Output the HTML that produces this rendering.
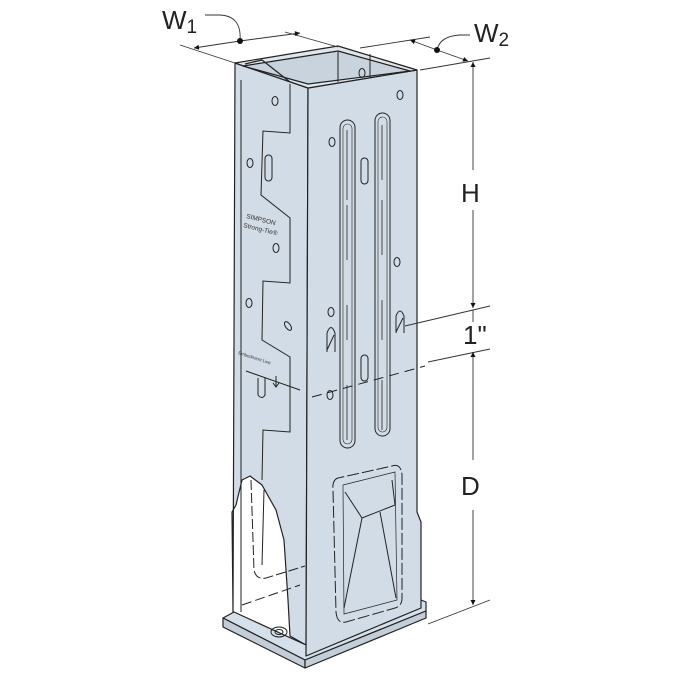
<!DOCTYPE html>
<html><head><style>html,body{margin:0;padding:0;background:#fff}svg{display:block}</style></head><body>
<svg width="675" height="675" viewBox="0 0 675 675" xmlns="http://www.w3.org/2000/svg" font-family="Liberation Sans, sans-serif">
<defs>
<marker id="a" viewBox="0 0 10 10" refX="10" refY="5" markerWidth="7" markerHeight="5" orient="auto-start-reverse" markerUnits="userSpaceOnUse"><path d="M0,0L10,5L0,10z" fill="#111"/></marker>
</defs>
<g stroke="#222" stroke-width="1.2" stroke-linejoin="round" fill="#d2dce6">
<!-- left face -->
<path d="M235,63 L308,88 L306,645 L290,636 L288,600 L284,540 L276,510 L262,485 L250,476 L242,480 L236,505 L232,512 L233,612 Z"/>
<!-- base plate -->
<path d="M223,618 L234,612 L306,645 L421,600 L426,602 L426,611 L305,660 Z" fill="#d6e0ea"/>
<path d="M223,618 L305,660 L305,668 L223,627 Z" fill="#c4ced8"/>
<path d="M305,660 L426,611 L426,618 L305,668 Z" fill="#c4ced8"/>
<!-- front face -->
<path d="M308,88 L417,70 L417,512 L421,522 L421,608 L306,656 Z"/>
<!-- top opening -->
<path d="M235,63 L338,46 L417,70 L308,88 Z" fill="#dfe6ed"/>
<path d="M243,66 L338,51 L410,71 L308,84 Z" fill="#c9d3dd"/>
<path d="M245,64 L262,60 L290,82" fill="none"/>
</g>
<g stroke="#222" stroke-width="1" fill="none">
<path d="M290,84 L290,133 L263,131 L261,195 L290,218 L290,283 L263,281 L262,340 L290,357 L290,432 L263,430 L262,480"/>
<path d="M241,80 L241,612"/>
<path d="M338,52 L338,82"/>
<path d="M370,54 L370,78"/>
<rect x="340" y="120" width="15" height="328" rx="7.5"/>
<rect x="343" y="124" width="9" height="320" rx="4.5" stroke-width="0.6"/>
<rect x="375" y="113" width="15" height="323" rx="7.5"/>
<rect x="378" y="117" width="9" height="315" rx="4.5" stroke-width="0.6"/>
<path d="M347,130 V200 M347,205 V260 M347,305 V340 M347,385 V440 M382,125 V180 M382,200 V255 M382,300 V340 M382,380 V430" stroke-width="0.8"/>
<rect x="361" y="158" width="7" height="26" rx="3.5"/>
<rect x="361" y="355" width="7" height="26" rx="3.5"/>
<rect x="265" y="155" width="7" height="26" rx="3.5"/>
<ellipse cx="332" cy="142" rx="3" ry="4.5"/>
<ellipse cx="397" cy="262" rx="3" ry="4.5"/>
<ellipse cx="331" cy="312" rx="3" ry="4.5"/>
<ellipse cx="400" cy="95" rx="3" ry="4.5"/>
<ellipse cx="275" cy="101" rx="3" ry="4.5"/>
<ellipse cx="250" cy="163" rx="3" ry="4.5"/>
<ellipse cx="276" cy="248" rx="3" ry="4.5"/>
<ellipse cx="249" cy="303" rx="3" ry="4.5"/>
<ellipse cx="288" cy="326" rx="2.5" ry="5" transform="rotate(-35 288 326)"/>
<ellipse cx="330" cy="395" rx="3" ry="4.5"/>
<ellipse cx="362" cy="73" rx="3" ry="4.5"/>
<path d="M327,352 V333 Q331,322 335,333 V352 M327,350 L334,335"/>
<path d="M396,333 V316 Q400,306 404,316 V333 M396,332 L403,318"/>
<path d="M258,378 V395 Q262,400 265,395 V378"/>
<path d="M246,371 L300,390"/>
<path d="M276,376 V386 M273,383 L276,387 L279,383"/>
<path d="M312,397 L425,366" stroke-dasharray="10,6"/>
<path d="M338,478 Q332,480 333,490 L336,612 Q337,624 346,622 L395,608 Q402,606 402,598 L402,475 Q401,463 392,466 Z" stroke-dasharray="12,3"/>
<path d="M343,485 L395,472 L397,600 L344,614 Z" stroke-width="0.7"/>
<path d="M345,492 L362,518 L395,505 M362,518 L344,608 M380,512 L396,598 M392,480 L395,505"/>
<path d="M251,480 L254,570 Q256,580 266,578 L305,566" stroke-dasharray="10,3"/>
<path d="M264,490 L262,565"/>
<path d="M242,605 L300,585" stroke-dasharray="10,4"/>
<ellipse cx="279" cy="632" rx="8" ry="5"/>
<ellipse cx="279" cy="632" rx="4" ry="2.5"/>
</g>
<text x="246" y="218" font-size="6.5" fill="#333" transform="rotate(14 246 218)">SIMPSON</text>
<text x="243" y="227" font-size="6.5" fill="#333" transform="rotate(14 243 227)">Strong-Tie®</text>
<text x="238" y="354" font-size="4.5" fill="#333" transform="rotate(18 238 354)">Embedment Line</text>
<g stroke="#333" stroke-width="0.9" fill="none">
<path d="M180,45 L235,63 M285,32 L338,47 M360,48 L430,37 M420,70 L490,58"/>
<path d="M240,41 L194,48" marker-end="url(#a)"/>
<path d="M240,41 L300,33" marker-end="url(#a)"/>
<path d="M437,50 L410,40" marker-end="url(#a)"/>
<path d="M437,50 L468,61" marker-end="url(#a)"/>
<path d="M240,41 Q242,16 220,15 L205,15"/>
<path d="M437,50 Q440,36 460,35 L470,35"/>
<path d="M473,90 L473,62" marker-end="url(#a)"/>
<path d="M473,170 L473,90"/><path d="M473,210 L473,280"/>
<path d="M473,280 L473,308" marker-end="url(#a)"/>
<path d="M405,326 L490,306 M428,362 L490,349"/>
<path d="M473,322 L473,310"/>
<path d="M473,380 L473,352" marker-end="url(#a)"/>
<path d="M473,380 L473,460 M473,510 L473,578"/>
<path d="M473,578 L473,605" marker-end="url(#a)"/>
<path d="M428,624 L490,600"/>
</g>
<circle cx="240" cy="41" r="3" fill="#111"/>
<circle cx="437" cy="50" r="3" fill="#111"/>
<g fill="#222" font-size="26">
<text x="162" y="29">W<tspan font-size="19" dy="4">1</tspan></text>
<text x="474" y="42">W<tspan font-size="19" dy="4">2</tspan></text>
<text x="461" y="202">H</text>
<text x="463" y="344">1"</text>
<text x="461" y="495">D</text>
</g>
</svg>
</body></html>
